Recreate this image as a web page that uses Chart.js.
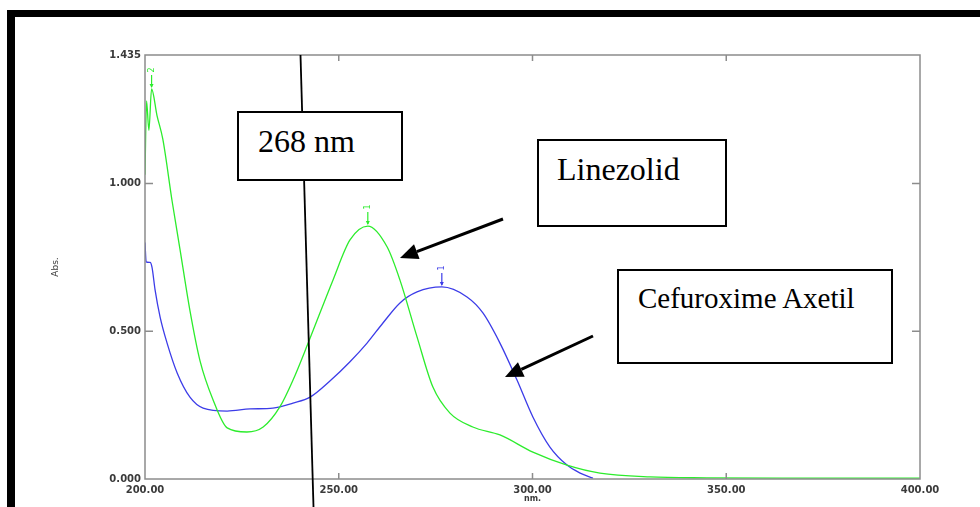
<!DOCTYPE html>
<html>
<head>
<meta charset="utf-8">
<title>Linezolid / Cefuroxime Axetil overlay spectra</title>
<script src="https://cdn.jsdelivr.net/npm/chart.js@4.4.1/dist/chart.umd.min.js"></script>
<style>
  body { margin: 0; background: #fff; }
  #wrap { position: relative; width: 980px; height: 507px; overflow: hidden; }
  .bar { position: absolute; background: #000; }
  .note {
    position: absolute; background: #fff; border: 2px solid #000; box-sizing: border-box;
    font-family: 'Liberation Serif', 'Times New Roman', serif; color: #000;
  }
  .note span { position: absolute; white-space: nowrap; line-height: 1; }
</style>
</head>
<body>
<div id="wrap">
  <canvas id="spectrum" width="980" height="507"></canvas>
  <div class="bar" style="left:7px; top:10px; width:973px; height:7px;"></div>
  <div class="bar" style="left:7px; top:10px; width:8px; height:497px;"></div>
  <div class="note" style="left:237px; top:111px; width:166px; height:70px;">
    <span style="left:19px; top:12px; font-size:32px;">268 nm</span>
  </div>
  <div class="note" style="left:537px; top:139px; width:190px; height:88px;">
    <span style="left:18px; top:12px; font-size:32px;">Linezolid</span>
  </div>
  <div class="note" style="left:617px; top:269px; width:276px; height:95px;">
    <span style="left:19px; top:13px; font-size:29px;">Cefuroxime Axetil</span>
  </div>
</div>
<script>
// wavelength axis (nm) and absorbance axis
const xTicks = [200, 250, 300, 350, 400];
const yTicks = [0, 0.5, 1.0, 1.435];

// Linezolid (green trace)
const linezolidNm = [200.0, 200.4, 201.0, 201.7, 203.1, 204.6, 207.0, 209.0, 211.6, 214.2, 217.5, 221.2,
  226.3, 230.5, 234.8, 238.2, 242.1, 248.5, 252.9, 257.5, 262.5, 265.8, 270.2, 274.3, 278.7, 284.6,
  291.6, 300.1, 308.9, 317.4, 330.3, 345.0, 370.0, 400.0];
const linezolidAbs = [1.03, 1.28, 1.18, 1.32, 1.23, 1.15, 0.94, 0.78, 0.57, 0.40, 0.27, 0.173,
  0.159, 0.176, 0.244, 0.335, 0.46, 0.673, 0.809, 0.856, 0.785, 0.673, 0.481, 0.311, 0.223, 0.176,
  0.149, 0.091, 0.047, 0.020, 0.007, 0.004, 0.003, 0.003];

// Cefuroxime Axetil (blue trace)
const cefuroximeNm = [200.0, 200.3, 201.3, 201.8, 202.6, 203.9, 205.7, 208.3, 211.6, 215.0, 221.2,
  227.1, 233.0, 238.2, 242.6, 248.0, 252.9, 257.3, 261.4, 265.8, 270.2, 276.6, 283.1, 287.2, 291.6,
  296.0, 300.1, 304.5, 308.9, 312.3, 315.6];
const cefuroximeAbs = [0.80, 0.735, 0.733, 0.717, 0.640, 0.548, 0.460, 0.359, 0.277, 0.240, 0.230,
  0.237, 0.240, 0.257, 0.277, 0.335, 0.397, 0.460, 0.528, 0.596, 0.633, 0.650, 0.616, 0.562, 0.460,
  0.335, 0.210, 0.108, 0.047, 0.020, 0.003];

// peak picks printed by the instrument
const linezolidPeakNm = [201.7, 257.5];
const linezolidPeakAbs = [1.32, 0.856];
const linezolidPeakTag = ['2', '1'];
const cefuroximePeakNm = [276.6];
const cefuroximePeakAbs = [0.650];
const cefuroximePeakTag = ['1'];

const green = '#2cec2c';
const blue = '#3c3ce8';
const axisGrey = '#8c8c8c';
const tickFont = { family: 'DejaVu Sans', size: 10, weight: 'bold' };

function toPoints(xs, ys) {
    return xs.map((v, i) => ({ x: v, y: ys[i] }));
}

function drawArrow(ctx, x1, y1, x2, y2) {
    const ang = Math.atan2(y2 - y1, x2 - x1);
    const len = 18, half = 8;
    const bx = x2 - len * Math.cos(ang), by = y2 - len * Math.sin(ang);
    ctx.beginPath();
    ctx.moveTo(x1, y1);
    ctx.lineTo(bx, by);
    ctx.stroke();
    ctx.beginPath();
    ctx.moveTo(x2, y2);
    ctx.lineTo(bx + half * Math.sin(ang), by - half * Math.cos(ang));
    ctx.lineTo(bx - half * Math.sin(ang), by + half * Math.cos(ang));
    ctx.closePath();
    ctx.fill();
}

function drawPeaks(ctx, x, y, nms, abss, tags, color) {
    ctx.strokeStyle = color;
    ctx.fillStyle = color;
    ctx.lineWidth = 1.2;
    ctx.font = '8px "DejaVu Sans"';
    ctx.textAlign = 'center';
    ctx.textBaseline = 'middle';
    nms.forEach((nm, i) => {
        const px = x.getPixelForValue(nm);
        const py = y.getPixelForValue(abss[i]);
        ctx.beginPath();
        ctx.moveTo(px, py - 14);
        ctx.lineTo(px, py - 2);
        ctx.stroke();
        ctx.beginPath();
        ctx.moveTo(px, py - 1);
        ctx.lineTo(px - 2, py - 5);
        ctx.lineTo(px + 2, py - 5);
        ctx.closePath();
        ctx.fill();
        ctx.save();
        ctx.translate(px, py - 19);
        ctx.rotate(-Math.PI / 2);
        ctx.fillText(tags[i], 0, 0);
        ctx.restore();
    });
}

const decor = {
    id: 'decor',
    afterDatasetsDraw(chart) {
        const { ctx, chartArea: a, scales: { x, y } } = chart;
        ctx.save();
        // plot frame + inward ticks
        ctx.strokeStyle = axisGrey;
        ctx.lineWidth = 1.5;
        ctx.strokeRect(a.left, a.top, a.right - a.left, a.bottom - a.top);
        ctx.beginPath();
        xTicks.slice(1, -1).forEach(v => {
            const px = x.getPixelForValue(v);
            ctx.moveTo(px, a.bottom); ctx.lineTo(px, a.bottom - 6);
            ctx.moveTo(px, a.top); ctx.lineTo(px, a.top + 6);
        });
        yTicks.slice(1, -1).forEach(v => {
            const py = y.getPixelForValue(v);
            ctx.moveTo(a.left, py); ctx.lineTo(a.left + 8, py);
            ctx.moveTo(a.right, py); ctx.lineTo(a.right - 8, py);
        });
        ctx.stroke();

        drawPeaks(ctx, x, y, linezolidPeakNm, linezolidPeakAbs, linezolidPeakTag, green);
        drawPeaks(ctx, x, y, cefuroximePeakNm, cefuroximePeakAbs, cefuroximePeakTag, blue);

        // hand-drawn 268 nm marker line and callout arrows
        ctx.strokeStyle = '#000';
        ctx.fillStyle = '#000';
        ctx.lineWidth = 1.8;
        ctx.beginPath();
        ctx.moveTo(300.5, 55);
        ctx.lineTo(313.5, 507);
        ctx.stroke();
        ctx.lineWidth = 3;
        drawArrow(ctx, 503, 219, 400, 258);
        drawArrow(ctx, 593, 336, 505, 377);
        ctx.restore();
    }
};

new Chart(document.getElementById('spectrum'), {
    type: 'line',
    data: {
        datasets: [{
            label: 'Linezolid',
            data: toPoints(linezolidNm, linezolidAbs),
            borderColor: green,
            borderWidth: 1.3,
            cubicInterpolationMode: 'monotone',
            pointRadius: 0
        }, {
            label: 'Cefuroxime Axetil',
            data: toPoints(cefuroximeNm, cefuroximeAbs),
            borderColor: blue,
            borderWidth: 1.3,
            cubicInterpolationMode: 'monotone',
            pointRadius: 0
        }]
    },
    options: {
        responsive: false,
        animation: false,
        layout: { padding: { top: 55, right: 60, left: 0, bottom: 0 } },
        plugins: { legend: { display: false }, tooltip: { enabled: false } },
        scales: {
            x: {
                type: 'linear',
                min: 200,
                max: 400,
                afterBuildTicks: s => { s.ticks = xTicks.map(v => ({ value: v })); },
                afterFit: s => { s.height = 28; },
                grid: { display: false, drawTicks: false },
                border: { display: false },
                ticks: {
                    autoSkip: false, maxRotation: 0, padding: 5,
                    color: '#3a3a3a', font: tickFont,
                    callback: v => Number(v).toFixed(2)
                },
                title: {
                    display: true, text: 'nm.', color: '#3a3a3a',
                    font: { family: 'DejaVu Sans', size: 8, weight: 'bold' },
                    padding: { top: 0, bottom: 3 }
                }
            },
            y: {
                type: 'linear',
                min: 0,
                max: 1.435,
                afterBuildTicks: s => { s.ticks = yTicks.map(v => ({ value: v })); },
                afterFit: s => { s.width = 145; },
                grid: { display: false, drawTicks: false },
                border: { display: false },
                ticks: {
                    autoSkip: false, padding: 4,
                    color: '#3a3a3a', font: tickFont,
                    callback: v => Number(v).toFixed(3)
                },
                title: {
                    display: true, text: 'Abs.', color: '#3a3a3a',
                    font: { family: 'DejaVu Sans', size: 9 },
                    padding: { top: 50, bottom: 0 }
                }
            }
        }
    },
    plugins: [decor]
});
</script>
</body>
</html>
